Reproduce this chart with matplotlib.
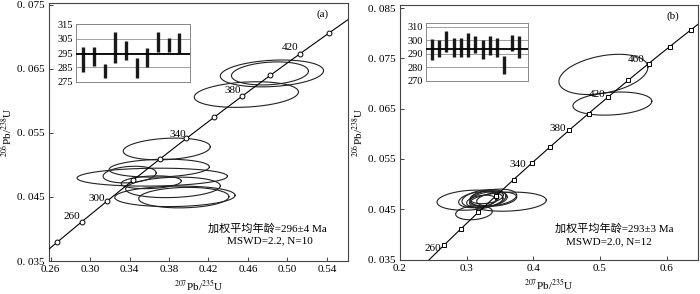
import numpy as np
import matplotlib
matplotlib.use('Agg')
import matplotlib.pyplot as plt

plt.rcParams['font.family'] = ['Liberation Serif', 'Noto Sans CJK SC']
plt.rcParams['mathtext.fontset'] = 'stix'

# ================= DATA =================
L238 = 1.55125e-10
L235 = 9.8485e-10

# (a) ellipses: centre x, centre y, half-width, half-height, correlation
a_cx = [0.4584, 0.4843, 0.4823, 0.3777, 0.3701, 0.3401, 0.3630, 0.3620, 0.3840, 0.3860, 0.3950]
a_cy = [0.0610, 0.0643, 0.0643, 0.0525, 0.0495, 0.0485, 0.0481, 0.0473, 0.0465, 0.0451, 0.0449]
a_sx = [0.0528, 0.0523, 0.0390, 0.0441, 0.0508, 0.0269, 0.0762, 0.0305, 0.0480, 0.0610, 0.0457]
a_sy = [0.0020, 0.0021, 0.0018, 0.0017, 0.0014, 0.0013, 0.0014, 0.0010, 0.0016, 0.0016, 0.0016]
a_r = [0.2, 0.2, 0.2, 0.2, 0.15, 0.2, 0.1, 0.2, 0.15, 0.1, 0.1]

# (b) ellipses
b_cx = [0.5051, 0.5186, 0.3050, 0.3620, 0.3110, 0.3180, 0.3260, 0.3330, 0.3400, 0.3220, 0.3450, 0.3300]
b_cy = [0.0718, 0.0660, 0.0468, 0.0465, 0.0443, 0.0469, 0.0471, 0.0470, 0.0473, 0.0466, 0.0470, 0.0474]
b_sx = [0.0667, 0.0592, 0.0495, 0.0575, 0.0275, 0.0300, 0.0330, 0.0280, 0.0350, 0.0220, 0.0300, 0.0250]
b_sy = [0.0040, 0.0023, 0.0020, 0.0019, 0.0014, 0.0016, 0.0018, 0.0015, 0.0017, 0.0012, 0.0014, 0.0013]
b_r = [0.35, 0.2, 0.2, 0.15, 0.2, 0.3, 0.3, 0.3, 0.3, 0.3, 0.3, 0.3]

# concordia marker ages (Ma)
a_ages = [240, 260, 280, 300, 320, 340, 360, 380, 400, 420, 440]
b_ages = [240, 260, 280, 300, 320, 340, 360, 380, 400, 420, 440, 460, 480, 500]

# age labels: text, x, y
a_lab = ['260', '300', '340', '380', '420']
a_lab_x = [0.2818, 0.3070, 0.3894, 0.4442, 0.5030]
a_lab_y = [0.0419, 0.0448, 0.0548, 0.0616, 0.0683]
b_lab = ['260', '340', '380', '420', '460']
b_lab_x = [0.2495, 0.3770, 0.4370, 0.4953, 0.5540]
b_lab_y = [0.0372, 0.0539, 0.0611, 0.0679, 0.0748]

# inset weighted mean bars (Ma): top / bottom
a_top = [299.2, 299.2, 287.2, 309.8, 303.2, 291.5, 298.5, 309.8, 305.6, 308.6]
a_bot = [281.6, 285.6, 277.8, 287.9, 290.3, 277.8, 285.1, 295.7, 295.7, 295.0]
a_mean = 294.0
b_top = [301.0, 300.0, 306.8, 301.8, 301.8, 305.5, 303.0, 300.5, 303.0, 301.3, 288.5, 303.5, 303.0]
b_bot = [285.5, 288.0, 291.0, 287.5, 287.5, 288.0, 290.5, 286.0, 289.3, 287.5, 275.5, 291.8, 286.8]
b_mean = 293.2

a_xticks = [0.26, 0.30, 0.34, 0.38, 0.42, 0.46, 0.50, 0.54]
a_yticks = [0.035, 0.045, 0.055, 0.065, 0.075]
b_xticks = [0.2, 0.3, 0.4, 0.5, 0.6]
b_yticks = [0.035, 0.045, 0.055, 0.065, 0.075, 0.085]


def concordia(t):
    t = np.asarray(t) * 1e6
    return np.exp(L235 * t) - 1, np.exp(L238 * t) - 1


def draw_ellipses(ax, cx, cy, sx, sy, r):
    th = np.linspace(0, 2 * np.pi, 200)
    for x0, y0, a, b, rr in zip(cx, cy, sx, sy, r):
        xs = x0 + a * np.cos(th)
        ys = y0 + b * (np.sin(th) * np.sqrt(1 - rr ** 2) + rr * np.cos(th))
        ax.plot(xs, ys, color='#222222', lw=0.8)


def setup_main(ax, xlim, ylim, xticks, yticks, xfmt):
    ax.set_xlim(*xlim)
    ax.set_ylim(*ylim)
    ax.set_xticks(xticks)
    ax.set_yticks(yticks)
    ax.set_xticklabels([xfmt % v for v in xticks], fontsize=8)
    ax.set_yticklabels(['0. %03d' % round(v * 1000) for v in yticks], fontsize=8)
    ax.tick_params(direction='in', length=3, width=0.7, color='#444444', pad=3)
    for s in ax.spines.values():
        s.set_color('#444444')
        s.set_linewidth(0.8)
    ax.set_xlabel(r'$^{207}$Pb/$^{235}$U', fontsize=8, labelpad=3)
    ax.set_ylabel(r'$^{206}$Pb/$^{238}$U', fontsize=8, labelpad=2)


def draw_concordia(ax, ages, marker, t_min, t_max):
    x, y = concordia(np.linspace(t_min, t_max, 300))
    ax.plot(x, y, color='black', lw=0.8, zorder=3)
    mx, my = concordia(ages)
    ax.plot(mx, my, ls='none', marker=marker, ms=3.5, mfc='white', mec='black', mew=0.7, zorder=4)


def draw_inset(fig, rect, top, bot, mean, ylim, yticks, xlim):
    ins = fig.add_axes(rect)
    idx = np.arange(1, len(top) + 1)
    for yv in yticks:
        ins.axhline(yv, color='#a0a0a0', lw=0.7, zorder=0)
    ins.vlines(idx, bot, top, color='#1a1a1a', lw=2.4, zorder=2)
    ins.axhline(mean, color='black', lw=1.3, zorder=3)
    ins.set_xlim(*xlim)
    ins.set_ylim(*ylim)
    ins.set_xticks([])
    ins.set_yticks(yticks)
    ins.set_yticklabels([str(v) for v in yticks], fontsize=7.5)
    ins.tick_params(axis='y', length=0, pad=2)
    for s in ins.spines.values():
        s.set_color('#888888')
        s.set_linewidth(0.7)
    return ins


fig = plt.figure(figsize=(7, 2.94), dpi=100)

# ---------- panel (a) ----------
ax1 = fig.add_axes([0.07, 0.1122, 0.427, 0.8776])
setup_main(ax1, (0.2584, 0.5613), (0.035, 0.0753), a_xticks, a_yticks, '%.2f')
draw_ellipses(ax1, a_cx, a_cy, a_sx, a_sy, a_r)
draw_concordia(ax1, a_ages, 'o', 225, 470)
for t, x, y in zip(a_lab, a_lab_x, a_lab_y):
    ax1.text(x, y, t, fontsize=8, ha='center', va='center')
ax1.text(0.915, 0.955, '(a)', transform=ax1.transAxes, fontsize=8, ha='center', va='center')
ax1.text(0.73, 0.125, '加权平均年龄=296±4 Ma', transform=ax1.transAxes, fontsize=8, ha='center', va='center')
ax1.text(0.74, 0.08, 'MSWD=2.2, N=10', transform=ax1.transAxes, fontsize=8, ha='center', va='center')
draw_inset(fig, [0.1086, 0.7221, 0.1628, 0.1952], a_top, a_bot, a_mean, (275, 315),
           [275, 285, 295, 305, 315], (0.32, 11.0))

# ---------- panel (b) ----------
ax2 = fig.add_axes([0.5714, 0.1173, 0.4257, 0.8657])
setup_main(ax2, (0.2, 0.647), (0.035, 0.0856), b_xticks, b_yticks, '%.1f')
draw_ellipses(ax2, b_cx, b_cy, b_sx, b_sy, b_r)
draw_concordia(ax2, b_ages, 's', 215, 520)
for t, x, y in zip(b_lab, b_lab_x, b_lab_y):
    ax2.text(x, y, t, fontsize=8, ha='center', va='center')
ax2.text(0.915, 0.955, '(b)', transform=ax2.transAxes, fontsize=8, ha='center', va='center')
ax2.text(0.72, 0.12, '加权平均年龄=293±3 Ma', transform=ax2.transAxes, fontsize=8, ha='center', va='center')
ax2.text(0.70, 0.07, 'MSWD=2.0, N=12', transform=ax2.transAxes, fontsize=8, ha='center', va='center')
draw_inset(fig, [0.6086, 0.7245, 0.1457, 0.1973], b_top, b_bot, b_mean, (270, 312.7),
           [270, 280, 290, 300, 310], (0.22, 14.23))

fig.savefig('out.png', dpi=100)
